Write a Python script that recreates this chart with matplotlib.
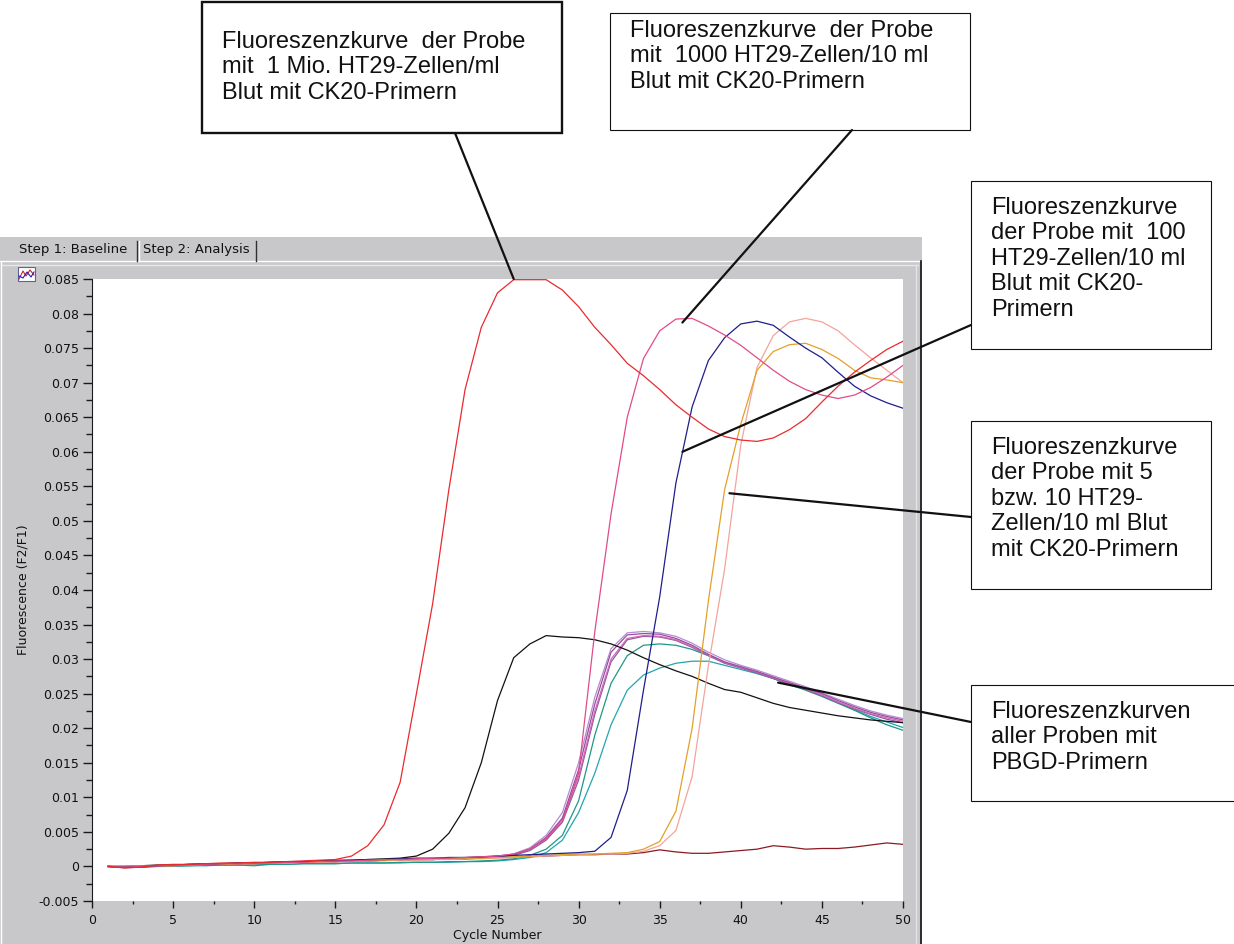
import numpy as np
import matplotlib
matplotlib.use("Agg")
import matplotlib.pyplot as plt
from matplotlib.patches import Rectangle, ConnectionPatch
from matplotlib.ticker import MultipleLocator, FuncFormatter

# fluorescence (F2/F1) per PCR cycle
cycles = np.arange(1, 51)

red_1mio = [0.0000, -0.0002, -0.0001, 0.0002, 0.0003, 0.0003, 0.0004, 0.0005, 0.0005, 0.0006,
            0.0006, 0.0007, 0.0008, 0.0009, 0.0010, 0.0015, 0.0030, 0.0060, 0.0122, 0.0250,
            0.0380, 0.0545, 0.0690, 0.0780, 0.0830, 0.0849, 0.0849, 0.0849, 0.0834, 0.0810,
            0.0780, 0.0755, 0.0728, 0.0710, 0.0690, 0.0668, 0.0650, 0.0633, 0.0622, 0.0617,
            0.0615, 0.0620, 0.0632, 0.0648, 0.0672, 0.0695, 0.0715, 0.0732, 0.0748, 0.0760]

pink_1000 = [0.0000, -0.0001, 0.0000, 0.0001, 0.0002, 0.0002, 0.0003, 0.0004, 0.0004, 0.0005,
             0.0005, 0.0006, 0.0006, 0.0007, 0.0008, 0.0008, 0.0009, 0.0010, 0.0010, 0.0011,
             0.0012, 0.0012, 0.0013, 0.0014, 0.0015, 0.0018, 0.0025, 0.0040, 0.0065, 0.0135,
             0.0340, 0.0510, 0.0650, 0.0735, 0.0775, 0.0792, 0.0793, 0.0782, 0.0769, 0.0754,
             0.0736, 0.0718, 0.0702, 0.0690, 0.0682, 0.0677, 0.0682, 0.0693, 0.0708, 0.0725]

blue_100 = [0.0000, -0.0001, 0.0000, 0.0001, 0.0002, 0.0003, 0.0003, 0.0004, 0.0005, 0.0005,
            0.0006, 0.0006, 0.0007, 0.0008, 0.0008, 0.0009, 0.0010, 0.0010, 0.0011, 0.0012,
            0.0012, 0.0013, 0.0013, 0.0014, 0.0015, 0.0016, 0.0017, 0.0018, 0.0019, 0.0020,
            0.0022, 0.0042, 0.0110, 0.0255, 0.0390, 0.0555, 0.0665, 0.0732, 0.0765, 0.0785,
            0.0789, 0.0783, 0.0766, 0.0750, 0.0736, 0.0715, 0.0695, 0.0681, 0.0671, 0.0663]

orange_10 = [0.0000, -0.0001, 0.0000, 0.0001, 0.0001, 0.0002, 0.0003, 0.0003, 0.0004, 0.0004,
             0.0005, 0.0005, 0.0006, 0.0007, 0.0007, 0.0008, 0.0008, 0.0009, 0.0010, 0.0010,
             0.0011, 0.0011, 0.0012, 0.0012, 0.0013, 0.0014, 0.0015, 0.0016, 0.0017, 0.0018,
             0.0018, 0.0019, 0.0020, 0.0025, 0.0036, 0.0080, 0.0200, 0.0384, 0.0545, 0.0640,
             0.0718, 0.0745, 0.0755, 0.0757, 0.0748, 0.0735, 0.0718, 0.0707, 0.0704, 0.0700]

salmon_5 = [0.0000, 0.0000, 0.0001, 0.0001, 0.0002, 0.0002, 0.0003, 0.0003, 0.0004, 0.0004,
            0.0005, 0.0005, 0.0006, 0.0006, 0.0007, 0.0007, 0.0008, 0.0008, 0.0009, 0.0009,
            0.0010, 0.0010, 0.0011, 0.0011, 0.0012, 0.0013, 0.0014, 0.0015, 0.0016, 0.0017,
            0.0018, 0.0018, 0.0019, 0.0022, 0.0030, 0.0052, 0.0130, 0.0290, 0.0430, 0.0610,
            0.0722, 0.0768, 0.0788, 0.0793, 0.0788, 0.0775, 0.0755, 0.0736, 0.0718, 0.0700]

# PBGD reference curves
black_pbgd = [0.0000, 0.0000, 0.0001, 0.0002, 0.0002, 0.0003, 0.0004, 0.0004, 0.0005, 0.0005,
              0.0006, 0.0007, 0.0007, 0.0008, 0.0009, 0.0009, 0.0010, 0.0011, 0.0012, 0.0015,
              0.0025, 0.0048, 0.0085, 0.0150, 0.0240, 0.0302, 0.0322, 0.0334, 0.0332, 0.0331,
              0.0328, 0.0322, 0.0313, 0.0302, 0.0292, 0.0283, 0.0275, 0.0265, 0.0256, 0.0252,
              0.0244, 0.0236, 0.0230, 0.0226, 0.0222, 0.0218, 0.0215, 0.0212, 0.0210, 0.0208]

violet_1 = [0.0000, -0.0001, 0.0000, 0.0001, 0.0002, 0.0002, 0.0003, 0.0003, 0.0004, 0.0005,
            0.0005, 0.0006, 0.0006, 0.0007, 0.0007, 0.0008, 0.0008, 0.0009, 0.0009, 0.0010,
            0.0010, 0.0011, 0.0012, 0.0013, 0.0014, 0.0017, 0.0025, 0.0042, 0.0070, 0.0140,
            0.0235, 0.0310, 0.0335, 0.0337, 0.0336, 0.0330, 0.0320, 0.0307, 0.0296, 0.0289,
            0.0282, 0.0274, 0.0266, 0.0258, 0.0250, 0.0240, 0.0231, 0.0223, 0.0217, 0.0212]

violet_2 = [0.0000, 0.0000, 0.0001, 0.0001, 0.0002, 0.0003, 0.0003, 0.0004, 0.0004, 0.0005,
            0.0005, 0.0006, 0.0007, 0.0007, 0.0008, 0.0008, 0.0009, 0.0009, 0.0010, 0.0010,
            0.0011, 0.0011, 0.0012, 0.0013, 0.0015, 0.0018, 0.0027, 0.0045, 0.0078, 0.0150,
            0.0245, 0.0315, 0.0338, 0.0340, 0.0338, 0.0333, 0.0323, 0.0310, 0.0299, 0.0291,
            0.0284, 0.0276, 0.0268, 0.0260, 0.0251, 0.0242, 0.0233, 0.0225, 0.0219, 0.0214]

violet_3 = [0.0000, -0.0001, -0.0001, 0.0001, 0.0001, 0.0002, 0.0003, 0.0003, 0.0004, 0.0004,
            0.0005, 0.0005, 0.0006, 0.0007, 0.0007, 0.0008, 0.0008, 0.0009, 0.0010, 0.0010,
            0.0011, 0.0012, 0.0012, 0.0013, 0.0015, 0.0018, 0.0026, 0.0040, 0.0068, 0.0130,
            0.0225, 0.0300, 0.0330, 0.0334, 0.0333, 0.0328, 0.0318, 0.0306, 0.0295, 0.0288,
            0.0281, 0.0273, 0.0265, 0.0257, 0.0248, 0.0238, 0.0229, 0.0221, 0.0215, 0.0210]

violet_4 = [0.0000, 0.0000, 0.0000, 0.0001, 0.0002, 0.0002, 0.0002, 0.0003, 0.0004, 0.0004,
            0.0005, 0.0005, 0.0006, 0.0006, 0.0007, 0.0007, 0.0008, 0.0009, 0.0009, 0.0010,
            0.0010, 0.0011, 0.0011, 0.0012, 0.0014, 0.0016, 0.0023, 0.0038, 0.0064, 0.0125,
            0.0220, 0.0296, 0.0328, 0.0333, 0.0332, 0.0327, 0.0317, 0.0305, 0.0294, 0.0287,
            0.0280, 0.0272, 0.0264, 0.0256, 0.0247, 0.0237, 0.0228, 0.0220, 0.0213, 0.0208]

teal_1 = [0.0000, -0.0001, -0.0001, 0.0000, 0.0001, 0.0001, 0.0002, 0.0002, 0.0002, 0.0001,
          0.0003, 0.0003, 0.0004, 0.0004, 0.0004, 0.0005, 0.0005, 0.0005, 0.0006, 0.0006,
          0.0006, 0.0007, 0.0007, 0.0008, 0.0009, 0.0011, 0.0016, 0.0025, 0.0045, 0.0095,
          0.0190, 0.0265, 0.0305, 0.0320, 0.0322, 0.0320, 0.0314, 0.0305, 0.0295, 0.0288,
          0.0280, 0.0272, 0.0263, 0.0255, 0.0246, 0.0236, 0.0226, 0.0215, 0.0205, 0.0197]

teal_2 = [0.0000, 0.0000, -0.0001, 0.0000, 0.0000, 0.0001, 0.0001, 0.0002, 0.0002, 0.0003,
          0.0003, 0.0003, 0.0004, 0.0004, 0.0004, 0.0005, 0.0005, 0.0005, 0.0005, 0.0006,
          0.0006, 0.0006, 0.0007, 0.0007, 0.0008, 0.0010, 0.0013, 0.0020, 0.0038, 0.0078,
          0.0135, 0.0205, 0.0255, 0.0277, 0.0287, 0.0294, 0.0297, 0.0297, 0.0291, 0.0285,
          0.0279, 0.0272, 0.0264, 0.0256, 0.0247, 0.0237, 0.0227, 0.0217, 0.0209, 0.0201]

maroon_neg = [0.0000, -0.0002, -0.0001, 0.0001, 0.0002, 0.0002, 0.0003, 0.0003, 0.0004, 0.0005,
              0.0005, 0.0006, 0.0006, 0.0007, 0.0007, 0.0008, 0.0008, 0.0009, 0.0009, 0.0010,
              0.0010, 0.0011, 0.0011, 0.0012, 0.0013, 0.0013, 0.0014, 0.0015, 0.0016, 0.0017,
              0.0017, 0.0018, 0.0018, 0.0020, 0.0024, 0.0021, 0.0019, 0.0019, 0.0021, 0.0023,
              0.0025, 0.0030, 0.0028, 0.0025, 0.0026, 0.0026, 0.0028, 0.0031, 0.0034, 0.0032]

series = [
    (teal_2, '#22a4b2'), (teal_1, '#1d9885'), (violet_4, '#8a5a9e'),
    (violet_3, '#d466b6'), (violet_2, '#b48cd0'), (violet_1, '#9a4aa0'),
    (black_pbgd, '#111111'), (maroon_neg, '#8a1a22'),
    (salmon_5, '#f3a49c'), (orange_10, '#e3a02a'), (blue_100, '#1e1e8c'),
    (pink_1000, '#e04c8a'), (red_1mio, '#ea2a2e'),
]

notes = [
    "Fluoreszenzkurve  der Probe\nmit  1 Mio. HT29-Zellen/ml\nBlut mit CK20-Primern",
    "Fluoreszenzkurve  der Probe\nmit  1000 HT29-Zellen/10 ml\nBlut mit CK20-Primern",
    "Fluoreszenzkurve\nder Probe mit  100\nHT29-Zellen/10 ml\nBlut mit CK20-\nPrimern",
    "Fluoreszenzkurve\nder Probe mit 5\nbzw. 10 HT29-\nZellen/10 ml Blut\nmit CK20-Primern",
    "Fluoreszenzkurven\naller Proben mit\nPBGD-Primern",
]
# where each note's line points to (cycle, fluorescence)
note_targets = [(26.0, 0.085), (36.4, 0.0787), (36.4, 0.0600), (39.3, 0.0540), (42.3, 0.0266)]

W, H = 1234, 944
fig = plt.figure(figsize=(W / 100, H / 100), dpi=100)
fig.patch.set_facecolor('white')

# pixel canvas for the window chrome and the note boxes
bg = fig.add_axes([0, 0, 1, 1], zorder=0)
bg.set_xlim(0, W)
bg.set_ylim(H, 0)
bg.axis('off')

gray = '#c8c8cb'
bg.add_patch(Rectangle((0, 237), 922, H - 237, facecolor=gray, edgecolor='none'))
ui = dict(fontsize=9.5, family='DejaVu Sans', color='#111111', va='center')
bg.text(19, 250, 'Step 1: Baseline', **ui)
bg.text(143, 250, 'Step 2: Analysis', **ui)
bg.plot([0, 920], [261, 261], color='white', lw=1)
bg.plot([137, 137], [241, 261], color='#303030', lw=1)
bg.plot([139, 139], [241, 261], color='white', lw=1)
bg.plot([256, 256], [241, 261], color='#303030', lw=1)
bg.plot([2, 918], [265, 265], color='#e8e8ea', lw=1)
bg.plot([1, 1], [262, H], color='white', lw=1)
bg.plot([916, 916], [265, H], color='#e4e4e6', lw=1)
bg.plot([920.5, 920.5], [261, H], color='#111111', lw=1.2)
# little chart icon
bg.add_patch(Rectangle((18, 267), 17, 14, facecolor='white', edgecolor='#6060a0', lw=0.8))
bg.plot([19, 23, 26, 30, 34], [279, 271, 276, 270, 275], color='#d02020', lw=0.8)
bg.plot([19, 23, 27, 31, 34], [276, 278, 272, 277, 272], color='#2020c0', lw=0.8)

ax = fig.add_axes([92 / W, 1 - 901 / H, (903 - 92) / W, (901 - 279) / H], zorder=2)
ax.set_facecolor('white')
for vals, col in series:
    ax.plot(cycles, vals, color=col, lw=0.9, solid_joinstyle='round')
ax.set_xlim(0, 50)
ax.set_ylim(-0.005, 0.085)
for side in ['top', 'right', 'bottom']:
    ax.spines[side].set_visible(False)
ax.spines['left'].set_color('#1a1a1a')
ax.xaxis.set_major_locator(MultipleLocator(5))
ax.xaxis.set_minor_locator(MultipleLocator(2.5))
ax.yaxis.set_major_locator(MultipleLocator(0.005))
ax.yaxis.set_minor_locator(MultipleLocator(0.0025))
ax.yaxis.set_major_formatter(FuncFormatter(lambda v, p: f'{round(v, 4) + 0.0:g}'))
ax.xaxis.set_major_formatter(FuncFormatter(lambda v, p: f'{int(round(v))}'))
ax.tick_params(axis='both', which='both', direction='out', color='#1a1a1a', width=1,
               labelsize=9, labelcolor='#111111')
ax.tick_params(axis='y', which='major', length=6.5, pad=3)
ax.tick_params(axis='y', which='minor', length=4)
ax.tick_params(axis='x', which='major', length=5, pad=4)
ax.tick_params(axis='x', which='minor', length=2.5)
ax.set_xlabel('Cycle Number', fontsize=9, va='center', color='#111111')
ax.xaxis.set_label_coords(0.5, -34 / 622)
ax.set_ylabel('Fluorescence (F2/F1)', fontsize=9, va='center', color='#111111')
ax.yaxis.set_label_coords(-69 / 811, 0.5)

# note boxes: (left, top, width, height, border width, text top)
boxes = [(202, 2, 360, 131, 1.7, 31), (610, 13, 360, 117, 0.8, 20),
         (971, 181, 240, 168, 0.8, 197), (971, 421, 240, 168, 0.8, 437),
         (971, 685, 270, 116, 0.8, 701)]
anchors = [(455, 133), (852, 130), (971, 325), (971, 517), (971, 722)]

for (bx, by, bw, bh, blw, ty), txt, src, dst in zip(boxes, notes, anchors, note_targets):
    bg.add_patch(Rectangle((bx, by), bw, bh, facecolor='white', edgecolor='#111111',
                           lw=blw, zorder=3))
    bg.text(bx + 20, ty, txt, family='Liberation Sans', fontsize=17, va='top',
            ha='left', linespacing=1.2, color='#111111', zorder=4)
    con = ConnectionPatch(xyA=src, coordsA=bg.transData, xyB=dst, coordsB=ax.transData,
                          color='#111111', lw=1.6, zorder=10)
    fig.add_artist(con)

fig.savefig('out.png', dpi=100, facecolor='white')
